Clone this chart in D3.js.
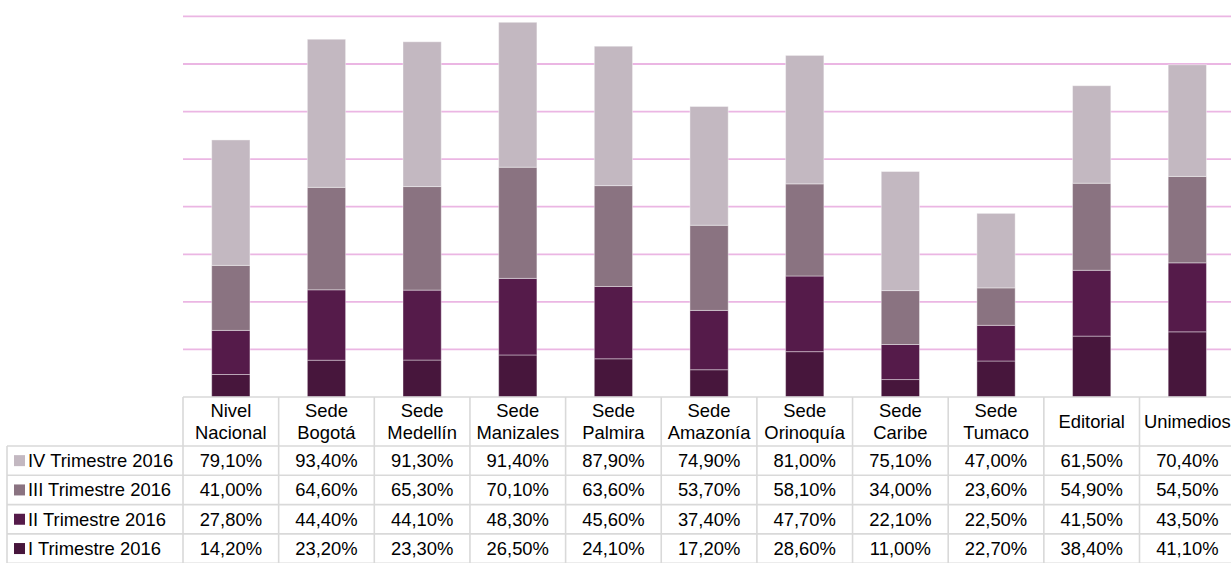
<!DOCTYPE html>
<html>
<head>
<meta charset="utf-8">
<script src="https://cdn.jsdelivr.net/npm/d3@7"></script>
<style>
  html, body { margin: 0; padding: 0; background: #fff; }
  svg { display: block; }
  text { font-family: "Liberation Sans", Arial, sans-serif; fill: #000; }
</style>
</head>
<body>
<svg id="chart" width="1231" height="563"></svg>
<script>
const categories = [
  ["Nivel", "Nacional"], ["Sede", "Bogotá"], ["Sede", "Medellín"], ["Sede", "Manizales"],
  ["Sede", "Palmira"], ["Sede", "Amazonía"], ["Sede", "Orinoquía"], ["Sede", "Caribe"],
  ["Sede", "Tumaco"], ["Editorial"], ["Unimedios"]
];
const seriesNames = ["IV Trimestre 2016", "III Trimestre 2016", "II Trimestre 2016", "I Trimestre 2016"];
const seriesIV  = [79.1, 93.4, 91.3, 91.4, 87.9, 74.9, 81.0, 75.1, 47.0, 61.5, 70.4];
const seriesIII = [41.0, 64.6, 65.3, 70.1, 63.6, 53.7, 58.1, 34.0, 23.6, 54.9, 54.5];
const seriesII  = [27.8, 44.4, 44.1, 48.3, 45.6, 37.4, 47.7, 22.1, 22.5, 41.5, 43.5];
const seriesI   = [14.2, 23.2, 23.3, 26.5, 24.1, 17.2, 28.6, 11.0, 22.7, 38.4, 41.1];
const gridTicks = [30, 60, 90, 120, 150, 180, 210, 240];
const colors = { "IV Trimestre 2016": "#c3b8c1", "III Trimestre 2016": "#8a7381", "II Trimestre 2016": "#551b4a", "I Trimestre 2016": "#47163c" };

const valuesBySeries = {
  "IV Trimestre 2016": seriesIV, "III Trimestre 2016": seriesIII,
  "II Trimestre 2016": seriesII, "I Trimestre 2016": seriesI
};
const fmt = v => d3.format(".2f")(v).replace(".", ",") + "%";

const svg = d3.select("#chart");
const plotLeft = 183, plotRight = 183 + 95.65 * 11, baseY = 397, topY = 16.4;
const tableLeft = 7;

const x = d3.scaleBand().domain(d3.range(categories.length)).range([plotLeft, plotRight]).paddingInner(0.6).paddingOuter(0.3);
const xCol = d3.scaleBand().domain(d3.range(categories.length)).range([plotLeft, plotRight]);
const y = d3.scaleLinear().domain([0, 240]).range([baseY, topY]);

// gridlines
svg.append("g").selectAll("line").data(gridTicks).join("line")
  .attr("x1", plotLeft).attr("x2", 1231)
  .attr("y1", d => y(d)).attr("y2", d => y(d))
  .attr("stroke", "#ebb6e3").attr("stroke-width", 1.8);

// stacked bars: bottom I, II, III, top IV
const stackOrder = ["I Trimestre 2016", "II Trimestre 2016", "III Trimestre 2016", "IV Trimestre 2016"];
const rows = categories.map((c, i) => {
  const o = { idx: i };
  stackOrder.forEach(s => o[s] = valuesBySeries[s][i]);
  return o;
});
const stacked = d3.stack().keys(stackOrder)(rows);
svg.append("g").selectAll("g").data(stacked).join("g")
  .attr("fill", d => colors[d.key])
  .selectAll("rect").data(d => d).join("rect")
  .attr("x", d => x(d.data.idx))
  .attr("width", x.bandwidth())
  .attr("y", d => y(d[1]))
  .attr("height", d => y(d[0]) - y(d[1]))
  .attr("stroke", "rgba(255,255,255,0.4)").attr("stroke-width", 1);

// data table
const headerTop = 397, headerBottom = 446, rowH = 29.3;
const gridColor = "#d9d9d9";
const tg = svg.append("g");
const fs = 18.4;

// horizontal lines
tg.append("line").attr("x1", plotLeft).attr("x2", 1231).attr("y1", headerTop).attr("y2", headerTop)
  .attr("stroke", gridColor).attr("stroke-width", 1.6);
d3.range(seriesNames.length + 1).forEach(r => {
  const yy = headerBottom + r * rowH;
  tg.append("line").attr("x1", tableLeft).attr("x2", 1231).attr("y1", yy).attr("y2", yy)
    .attr("stroke", gridColor).attr("stroke-width", 1.6);
});
// vertical lines
tg.append("line").attr("x1", tableLeft).attr("x2", tableLeft).attr("y1", headerBottom).attr("y2", 563)
  .attr("stroke", gridColor).attr("stroke-width", 1.6);
d3.range(categories.length + 1).forEach(k => {
  const xx = plotLeft + k * xCol.bandwidth();
  tg.append("line").attr("x1", xx).attr("x2", xx).attr("y1", headerTop).attr("y2", 563)
    .attr("stroke", gridColor).attr("stroke-width", 1.6);
});

// header labels
categories.forEach((lines, i) => {
  const cx = xCol(i) + xCol.bandwidth() / 2;
  const t = tg.append("text").attr("text-anchor", "middle").attr("font-size", fs);
  if (lines.length === 1) {
    t.append("tspan").attr("x", cx).attr("y", 428).text(lines[0]);
  } else {
    t.append("tspan").attr("x", cx).attr("y", 417).text(lines[0]);
    t.append("tspan").attr("x", cx).attr("y", 439).text(lines[1]);
  }
});

// rows
seriesNames.forEach((s, r) => {
  const top = headerBottom + r * rowH;
  const cy = top + rowH / 2 + 6.5;
  tg.append("rect").attr("x", 14).attr("y", top + rowH / 2 - 5.5).attr("width", 11).attr("height", 11)
    .attr("fill", colors[s]);
  tg.append("text").attr("x", 28).attr("y", cy).attr("font-size", fs).text(s);
  valuesBySeries[s].forEach((v, i) => {
    tg.append("text").attr("x", xCol(i) + xCol.bandwidth() / 2).attr("y", cy)
      .attr("text-anchor", "middle").attr("font-size", fs).text(fmt(v));
  });
});
</script>
</body>
</html>
